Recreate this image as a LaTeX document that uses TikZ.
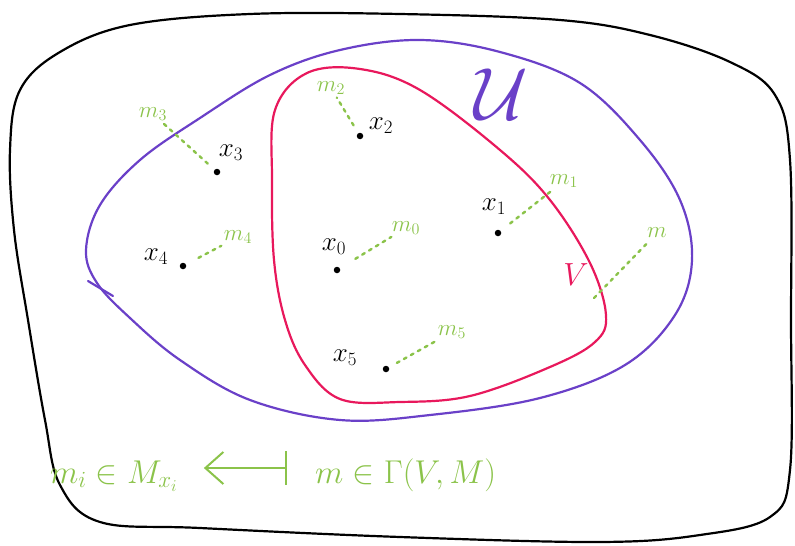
\RequirePackage{fix-cm}
\documentclass[tikz,border=0pt]{standalone}
\usepackage{xcolor}
\usepackage{tikz}
\usetikzlibrary{arrows.meta, positioning, calc}

\definecolor{sketchgreen}{RGB}{139,195,74}
\definecolor{sketchpurple}{RGB}{106,64,200}
\definecolor{sketchred}{RGB}{232,24,92}

\begin{document}
\begin{tikzpicture}[
    x=1pt, y=-1pt,
    outline/.style={line width=2.2pt, line cap=round, line join=round},
    pt/.style={circle, fill=black, inner sep=0pt, minimum size=6.5pt},
    ptlabel/.style={font=\fontsize{27}{30}\selectfont, inner sep=0pt},
    fibre/.style={font=\fontsize{23}{26}\selectfont, text=sketchgreen, inner sep=1pt},
    fibreline/.style={sketchgreen, line width=2.4pt, dash pattern=on 3pt off 5pt, line cap=round, shorten >=2pt},
    formula/.style={font=\fontsize{33}{40}\selectfont, text=sketchgreen, anchor=base west, text height=38pt, text depth=8pt, inner sep=0pt},
    mapsto/.style={sketchgreen, line width=2pt, {Bar[width=34pt]}-{Straight Barb[length=18pt, width=32pt]}},
]
    \useasboundingbox (0,0) rectangle (795,546);

    \draw[outline] plot[smooth cycle, tension=0.6] coordinates {
        (10,150) (20,90) (60,52) (130,25) (250,14) (400,14) (560,20) (650,35)
        (730,62) (775,95) (790,160) (791,320) (790,470) (770,517) (700,535)
        (600,542) (400,537) (200,528) (100,522) (60,485) (45,420) (28,320)
        (14,230)};

    \draw[outline, sketchpurple] plot[smooth cycle, tension=0.6] coordinates {
        (86,250) (100,205) (140,160) (200,118) (270,75) (340,50) (420,40)
        (500,52) (580,83) (640,140) (680,200) (692,260) (675,315) (625,365)
        (540,398) (430,415) (340,420) (250,400) (180,360) (130,318) (97,283)};
    \draw[outline, sketchpurple] (88,281) -- (113,296);
    \node[font=\fontsize{74}{84}\selectfont, text=sketchpurple, inner sep=0pt] (U) at (501,94) {$\mathcal{U}$};

    \draw[outline, sketchred] plot[smooth cycle, tension=0.6] coordinates {
        (307,73) (360,69) (420,90) (500,150) (550,200) (590,263) (606,315)
        (595,342) (550,367) (470,396) (400,402) (340,399) (305,365) (285,320)
        (274,260) (272,180) (275,110)};
    \node[font=\fontsize{32}{36}\selectfont, text=sketchred, inner sep=0pt] (V) at (576,275) {$V$};

    \node[pt] (p0) at (337,270) {};
    \node[ptlabel] (x0) at (334,247) {$x_0$};
    \node[fibre] (m0) at (406,228) {$m_0$};
    \draw[fibreline, shorten <=18pt] (p0) -- (m0);

    \node[pt] (p1) at (498,233) {};
    \node[ptlabel] (x1) at (494,207) {$x_1$};
    \node[fibre] (m1) at (564,181) {$m_1$};
    \draw[fibreline, shorten <=12pt] (p1) -- (m1);

    \node[pt] (p2) at (360,136) {};
    \node[ptlabel] (x2) at (381,126) {$x_2$};
    \node[fibre] (m2) at (331,88) {$m_2$};
    \draw[fibreline, shorten <=9pt] (p2) -- (m2);

    \node[pt] (p3) at (217,172) {};
    \node[ptlabel] (x3) at (231,153) {$x_3$};
    \node[fibre] (m3) at (153,114) {$m_3$};
    \draw[fibreline, shorten <=9pt] (p3) -- (m3);

    \node[pt] (p4) at (183,266) {};
    \node[ptlabel] (x4) at (156,257) {$x_4$};
    \node[fibre] (m4) at (238,237) {$m_4$};
    \draw[fibreline, shorten <=14pt] (p4) -- (m4);

    \node[pt] (p5) at (386,369) {};
    \node[ptlabel] (x5) at (345,358) {$x_5$};
    \node[fibre] (m5) at (452,332) {$m_5$};
    \draw[fibreline, shorten <=9pt] (p5) -- (m5);

    \coordinate (vend) at (594,298);
    \node[fibre] (mfree) at (657,233) {$m$};
    \draw[fibreline] (vend) -- (mfree);

    \node[formula] (fib) at (50,483) {$m_i \in M_{x_i}$};
    \node[formula] (sec) at (315,483) {$m \in \Gamma(V, M)$};
    \draw[mapsto, shorten <=28pt, shorten >=26pt] (sec) -- (fib);
\end{tikzpicture}
\end{document}
